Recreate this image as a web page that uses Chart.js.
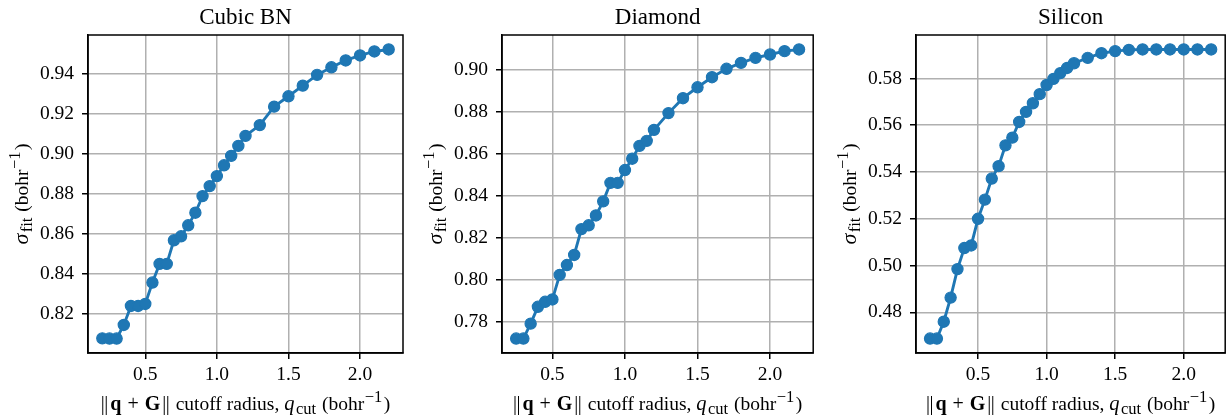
<!DOCTYPE html>
<html>
<head>
<meta charset="utf-8">
<script src="https://cdn.jsdelivr.net/npm/chart.js@4"></script>
<style>
  html, body { margin: 0; padding: 0; background: #fff; overflow: hidden; }
  body { width: 1230px; height: 415px; position: relative; }
  .panel { position: absolute; top: 0; height: 415px; }
</style>
</head>
<body>
<div class="panel" style="left:0px"><canvas id="cubicChart" width="410" height="415"></canvas></div>
<div class="panel" style="left:410px"><canvas id="diamondChart" width="410" height="415"></canvas></div>
<div class="panel" style="left:820px"><canvas id="siliconChart" width="412" height="415"></canvas></div>

<script>
// cutoff radius q_cut (bohr^-1)
const xCubic = [0.2, 0.25, 0.3, 0.35, 0.4, 0.45, 0.5, 0.55, 0.6, 0.65, 0.7, 0.75, 0.8, 0.85, 0.9, 0.95, 1.0, 1.05, 1.1, 1.15, 1.2,
                1.3, 1.4, 1.5, 1.6, 1.7, 1.8, 1.9, 2.0, 2.1, 2.2];
const yCubic = [0.8078, 0.8077, 0.8077, 0.8145, 0.8240, 0.8240, 0.8250, 0.8357, 0.8450, 0.8450, 0.8568, 0.8588, 0.8643, 0.8706,
                0.8789, 0.8839, 0.8889, 0.8943, 0.8990, 0.9040, 0.9090,
                0.9144, 0.9236, 0.9288, 0.9341, 0.9395, 0.9433, 0.9467, 0.9492, 0.9512, 0.9522];

const xDiamond = [0.25, 0.3, 0.35, 0.4, 0.45, 0.5, 0.55, 0.6, 0.65, 0.7, 0.75, 0.8, 0.85, 0.9, 0.95, 1.0, 1.05, 1.1, 1.15, 1.2,
                  1.3, 1.4, 1.5, 1.6, 1.7, 1.8, 1.9, 2.0, 2.1, 2.2];
const yDiamond = [0.7721, 0.7721, 0.7792, 0.7872, 0.7896, 0.7907, 0.8024, 0.8071, 0.8119, 0.8242, 0.8260, 0.8307, 0.8374,
                  0.8462, 0.8462, 0.8523, 0.8577, 0.8638, 0.8662, 0.8714,
                  0.8794, 0.8865, 0.8917, 0.8965, 0.9005, 0.9033, 0.9057, 0.9073, 0.9089, 0.9097];

const xSilicon = [0.15, 0.2, 0.25, 0.3, 0.35, 0.4, 0.45, 0.5, 0.55, 0.6, 0.65, 0.7, 0.75, 0.8, 0.85, 0.9, 0.95, 1.0, 1.05, 1.1, 1.15, 1.2,
                  1.3, 1.4, 1.5, 1.6, 1.7, 1.8, 1.9, 2.0, 2.1, 2.2];
const ySilicon = [0.4688, 0.4688, 0.4760, 0.4863, 0.4985, 0.5075, 0.5086, 0.5200, 0.5282, 0.5372, 0.5425, 0.5514, 0.5547,
                  0.5614, 0.5657, 0.5694, 0.5733, 0.5772, 0.5798, 0.5823, 0.5845, 0.5865,
                  0.5888, 0.5908, 0.5917, 0.5922, 0.5924, 0.5924, 0.5924, 0.5924, 0.5924, 0.5924];

const titles = ["Cubic BN", "Diamond", "Silicon"];
const xTicks = [0.5, 1.0, 1.5, 2.0];
const yTicksCubic = [0.82, 0.84, 0.86, 0.88, 0.90, 0.92, 0.94];
const yTicksDiamond = [0.78, 0.80, 0.82, 0.84, 0.86, 0.88, 0.90];
const yTicksSilicon = [0.48, 0.50, 0.52, 0.54, 0.56, 0.58];

const SERIF = '"Liberation Serif", "Times New Roman", serif';
const BLUE = "#1f77b4";

function setFont(ctx, size, style) {
    ctx.font = (style || "") + " " + size + "px " + SERIF;
}

// draws text pieces side by side, centred on x
// piece = [text, style, size, dy, extra advance after]
function drawRich(ctx, parts, x, y) {
    let w = 0;
    parts.forEach(p => { setFont(ctx, p[2], p[1]); w += ctx.measureText(p[0]).width + (p[4] || 0); });
    let cx = x - w / 2;
    ctx.textAlign = "left";
    ctx.textBaseline = "alphabetic";
    parts.forEach(p => {
        setFont(ctx, p[2], p[1]);
        ctx.fillText(p[0], cx, y + (p[3] || 0));
        cx += ctx.measureText(p[0]).width + (p[4] || 0);
    });
}

const xLabel = [
    ["|", "", 20, 0, -0.5], ["|", "", 20, 0, 2], ["q", "bold", 20, 0, 6], ["+", "", 20, 0, 6],
    ["G", "bold", 20, 0, 2], ["|", "", 20, 0, -0.5], ["|", "", 20, 0, 1],
    [" cutoff radius, ", "", 19.5], ["q", "italic", 20.5, 0, 1.5], ["cut", "", 16.5, 4, 1],
    [" (bohr", "", 19.5, 0, 0.5], ["\u22121", "", 16.5, -8, 1.5], [")", "", 19.5]
];
const yLabel = [
    ["\u03c3", "italic", 22, 0, 1.5], ["fit", "", 16.5, 4, 1], [" (bohr", "", 19.5, 0, 0.5], ["\u22121", "", 16.5, -8, 1.5], [")", "", 19.5]
];

// frame, title and axis labels
const decorPlugin = {
    id: "decor",
    afterDatasetsDraw(chart, args, opts) {
        const ctx = chart.ctx;
        const a = chart.chartArea;
        ctx.save();
        ctx.strokeStyle = "#000";
        ctx.lineWidth = 1.5;
        ctx.strokeRect(a.left, a.top, a.right - a.left, a.bottom - a.top);

        ctx.fillStyle = "#000";
        setFont(ctx, 23, "");
        ctx.textAlign = "center";
        ctx.textBaseline = "alphabetic";
        ctx.fillText(opts.title, (a.left + a.right) / 2, 24);

        drawRich(ctx, xLabel, (a.left + a.right) / 2, 410);

        ctx.translate(a.left - 60, (a.top + a.bottom) / 2);
        ctx.rotate(-Math.PI / 2);
        drawRich(ctx, yLabel, 0, 0);
        ctx.restore();
    }
};

function margins(vals) {
    const lo = Math.min(...vals), hi = Math.max(...vals);
    const m = (hi - lo) * 0.05;
    return [lo - m, hi + m];
}

function makeChart(id, title, xs, ys, yTicks, axesLeft, padRight) {
    const xr = margins(xs);
    const yr = margins(ys);
    const points = xs.map((x, i) => ({ x: x, y: ys[i] }));
    const tickFont = { family: SERIF, size: 19.5 };

    new Chart(document.getElementById(id), {
        type: "line",
        data: {
            datasets: [{
                data: points,
                borderColor: BLUE,
                backgroundColor: BLUE,
                borderWidth: 2.9,
                pointRadius: 5.6,
                pointBorderWidth: 1.2,
                pointBorderColor: BLUE,
                pointBackgroundColor: BLUE,
                tension: 0
            }]
        },
        options: {
            responsive: false,
            animation: false,
            layout: { padding: { top: 35, right: padRight, left: 0, bottom: 0 } },
            plugins: {
                legend: { display: false },
                tooltip: { enabled: false },
                decor: { title: title }
            },
            scales: {
                x: {
                    type: "linear",
                    min: xr[0],
                    max: xr[1],
                    afterBuildTicks: s => { s.ticks = xTicks.map(v => ({ value: v })); },
                    afterFit: s => { s.height = 62; },
                    ticks: {
                        color: "#000",
                        font: tickFont,
                        padding: 4,
                        maxRotation: 0,
                        callback: v => Number(v).toFixed(1)
                    },
                    grid: { color: "#b0b0b0", lineWidth: 1.5, tickLength: 6, tickColor: "#000", tickWidth: 1.5 },
                    border: { display: true, color: "#000", width: 1.5 }
                },
                y: {
                    type: "linear",
                    min: yr[0],
                    max: yr[1],
                    afterBuildTicks: s => { s.ticks = yTicks.map(v => ({ value: v })); },
                    afterFit: s => { s.width = axesLeft; },
                    ticks: {
                        color: "#000",
                        font: tickFont,
                        padding: 8,
                        callback: v => Number(v).toFixed(2)
                    },
                    grid: { color: "#b0b0b0", lineWidth: 1.5, tickLength: 6, tickColor: "#000", tickWidth: 1.5 },
                    border: { display: true, color: "#000", width: 1.5 }
                }
            }
        },
        plugins: [decorPlugin]
    });
}

makeChart("cubicChart", titles[0], xCubic, yCubic, yTicksCubic, 88, 7);
makeChart("diamondChart", titles[1], xDiamond, yDiamond, yTicksDiamond, 92, 3);
makeChart("siliconChart", titles[2], xSilicon, ySilicon, yTicksSilicon, 96, 1);
</script>
</body>
</html>
